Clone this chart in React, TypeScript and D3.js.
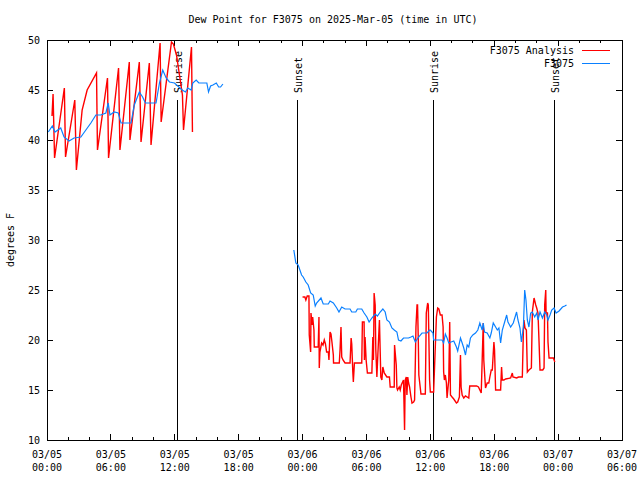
import React from "react";
import * as d3 from "d3";

// ---- data ----
const START_UTC = Date.UTC(2025, 2, 5, 0, 0);
const SPAN_HOURS = 54;
const Y_DOMAIN: [number, number] = [10, 50];
const Y_TICKS = [10, 15, 20, 25, 30, 35, 40, 45, 50];
const TITLE = "Dew Point for F3075 on 2025-Mar-05 (time in UTC)";
const Y_LABEL = "degrees F";
const SERIES_NAMES = ["F3075 Analysis", "F3075"];

// [hours since 03/05 00:00 UTC, dew point F]
const analysis: [number, number][] = [
  [0.47, 42.4], [0.57, 44.6], [0.71, 38.2], [1.63, 45.2], [1.74, 38.3], [2.61, 44.0], [2.76, 37.0],
  [3.30, 43.0], [3.77, 45.0], [4.65, 46.7], [4.74, 39.0], [5.68, 46.2], [5.78, 38.2], [6.72, 47.2],
  [6.85, 39.0], [7.73, 47.8], [7.79, 40.0], [8.67, 47.8], [8.83, 39.8], [9.61, 47.7], [9.77, 39.5],
  [10.62, 49.7], [10.72, 41.8], [11.69, 49.8], [11.87, 49.6], [12.16, 48.5], [12.44, 46.5],
  [12.72, 44.5], [12.82, 41.0], [13.57, 49.3], [13.66, 40.8],
  [24.00, 24.3], [24.22, 24.3], [24.31, 24.0], [24.44, 24.4], [24.60, 24.4], [24.63, 20.5],
  [24.76, 18.8], [24.79, 22.7], [24.91, 21.5], [24.95, 22.3], [25.07, 21.0], [25.10, 19.3],
  [25.47, 19.3], [25.54, 22.3], [25.57, 17.2], [25.63, 18.8], [25.79, 19.7], [25.92, 19.5],
  [26.04, 20.0], [26.15, 19.6], [26.26, 18.8], [26.42, 18.8], [26.48, 18.0], [26.58, 20.8],
  [26.67, 20.6], [26.76, 19.8], [26.89, 18.5], [26.91, 17.7], [27.45, 17.7], [27.52, 19.0],
  [27.61, 21.3], [27.68, 18.3], [27.80, 18.0], [27.99, 17.7], [28.46, 17.7], [28.56, 20.2],
  [28.62, 19.6], [28.72, 16.8], [28.77, 15.8], [28.87, 17.7], [29.56, 17.7], [29.62, 21.8],
  [29.78, 21.8], [29.81, 18.0], [29.87, 20.3], [29.97, 18.0], [30.09, 16.7], [30.51, 16.7],
  [30.60, 20.3], [30.66, 18.0], [30.72, 24.7], [30.82, 23.5], [30.88, 19.0], [30.98, 16.3],
  [31.07, 18.5], [31.22, 22.0], [31.35, 16.3], [31.45, 16.0], [31.54, 17.3], [31.67, 16.7],
  [31.92, 16.3], [32.16, 16.3], [32.23, 15.3], [32.61, 15.3], [32.64, 19.5], [32.80, 17.5],
  [32.86, 15.2], [32.92, 15.0], [33.08, 15.3], [33.17, 15.0], [33.27, 15.5], [33.48, 16.0],
  [33.58, 11.0], [33.64, 16.0], [33.74, 16.3], [33.80, 14.5], [33.88, 16.3], [33.96, 15.7],
  [34.05, 15.3], [34.18, 14.3], [34.28, 13.7], [34.43, 13.8], [34.52, 14.0], [34.59, 17.7],
  [34.65, 21.3], [34.75, 23.5], [34.80, 23.5], [34.87, 20.0], [34.92, 16.5], [35.12, 14.6],
  [35.53, 14.6], [35.62, 22.7], [35.75, 23.7], [35.81, 23.5], [35.93, 16.0], [36.00, 14.8],
  [36.31, 14.8], [36.57, 22.3], [36.69, 23.2], [36.80, 23.1], [36.94, 22.5], [37.10, 22.5],
  [37.20, 21.3], [37.25, 16.8], [37.32, 16.0], [37.41, 16.5], [37.51, 15.7], [37.57, 14.2],
  [37.73, 16.0], [37.82, 21.8], [37.89, 14.5], [38.04, 14.3], [38.20, 14.1], [38.45, 13.7],
  [38.57, 13.8], [38.73, 14.3], [38.83, 18.5], [38.89, 15.3], [38.99, 14.5], [39.14, 14.2],
  [39.30, 14.4], [39.61, 14.2], [39.70, 15.4], [40.34, 15.4], [40.52, 15.3], [40.65, 15.0],
  [40.78, 14.7], [40.87, 18.0], [40.97, 21.7], [41.02, 18.0], [41.18, 15.2], [41.34, 15.7],
  [41.49, 15.7], [41.59, 16.3], [41.72, 17.0], [41.82, 17.0], [41.97, 19.8], [42.03, 19.0],
  [42.13, 15.0], [42.60, 15.0], [42.69, 17.3], [42.76, 16.0], [42.91, 16.0], [43.07, 16.1],
  [43.54, 16.2], [43.70, 16.7], [43.76, 16.3], [44.10, 16.2], [44.29, 16.3], [44.55, 16.3],
  [44.64, 16.3], [44.74, 21.0], [44.79, 22.0], [44.89, 21.2], [45.02, 21.0], [45.11, 16.8],
  [45.26, 17.0], [45.49, 17.2], [45.58, 22.8], [45.74, 24.2], [45.90, 23.5], [45.99, 23.2],
  [46.11, 22.7], [46.21, 19.8], [46.30, 17.0], [46.56, 17.0], [46.68, 17.2], [46.74, 23.5],
  [46.84, 25.0], [46.87, 22.7], [47.00, 22.7], [47.05, 19.8], [47.15, 18.2], [47.56, 18.2],
  [47.69, 17.8],
];

const observed: [number, number][] = [
  [0.12, 40.8], [0.50, 41.4], [0.75, 40.8], [1.29, 41.2], [1.60, 40.3], [2.07, 39.9], [2.54, 40.2],
  [3.18, 40.3], [3.65, 41.0], [4.12, 41.7], [4.59, 42.5], [5.06, 42.5], [5.53, 42.7], [5.75, 43.7],
  [5.91, 42.5], [6.31, 42.8], [6.69, 42.7], [6.95, 41.7], [7.89, 41.7], [8.20, 43.5], [8.67, 44.8],
  [8.98, 44.3], [9.24, 43.7], [10.24, 43.7], [10.56, 45.7], [10.87, 47.0], [11.19, 46.2],
  [11.50, 45.8], [11.97, 45.7], [12.69, 45.0], [13.01, 44.8], [13.22, 45.2], [13.54, 45.0],
  [13.69, 45.7], [14.01, 46.0], [14.26, 45.7], [15.01, 45.7], [15.17, 44.8], [15.36, 45.4],
  [15.58, 45.5], [15.90, 45.7], [16.12, 45.3], [16.30, 45.3], [16.52, 45.6],
  [23.18, 29.0], [23.37, 27.7], [23.59, 27.5], [23.91, 26.5], [24.06, 26.3], [24.31, 25.8],
  [24.53, 25.5], [24.76, 24.7], [25.00, 24.5], [25.19, 23.4], [25.32, 23.7], [25.73, 24.2],
  [25.94, 23.6], [26.42, 23.6], [26.58, 23.9], [26.89, 23.7], [27.21, 23.2], [27.42, 22.8],
  [27.68, 23.3], [27.99, 23.1], [28.46, 23.1], [28.62, 22.8], [29.00, 22.8], [29.15, 23.1],
  [29.56, 23.1], [29.78, 22.7], [30.04, 22.3], [30.25, 21.8], [30.51, 22.2], [30.82, 22.6],
  [31.03, 22.4], [31.29, 22.8], [31.54, 23.1], [31.76, 22.8], [31.92, 22.0], [32.16, 21.8],
  [32.39, 21.2], [32.61, 21.0], [32.86, 20.8], [33.01, 20.0], [33.24, 19.9], [33.48, 20.2],
  [33.96, 20.2], [34.18, 20.3], [34.37, 20.4], [34.59, 19.8], [34.90, 20.3], [35.22, 20.7],
  [35.69, 20.7], [35.93, 21.0], [36.00, 21.0], [36.25, 20.7], [36.31, 20.0], [37.10, 20.0],
  [37.25, 19.7], [37.41, 20.6], [37.57, 20.2], [37.73, 19.7], [37.95, 19.8], [38.20, 19.9],
  [38.45, 19.3], [38.57, 18.9], [38.83, 20.2], [38.99, 19.7], [39.14, 19.2], [39.30, 18.5],
  [39.46, 19.5], [39.61, 19.3], [39.77, 20.2], [39.99, 20.5], [40.24, 20.7], [40.46, 21.0],
  [40.65, 21.7], [40.87, 21.0], [40.97, 21.7], [41.09, 20.8], [41.34, 20.7], [41.59, 20.2],
  [41.72, 20.7], [41.91, 21.7], [42.13, 21.3], [42.29, 21.0], [42.44, 21.2], [42.60, 19.7],
  [42.76, 21.0], [42.98, 21.8], [43.17, 22.5], [43.29, 21.8], [43.54, 21.3], [43.79, 21.7],
  [44.10, 22.8], [44.23, 22.0], [44.42, 21.2], [44.55, 19.8], [44.74, 21.3], [44.86, 25.0],
  [44.98, 24.0], [45.11, 22.0], [45.26, 21.3], [45.42, 22.7], [45.58, 22.8], [45.80, 22.3],
  [45.99, 22.7], [46.11, 22.0], [46.30, 22.8], [46.53, 22.2], [46.74, 22.8], [46.93, 22.5],
  [47.05, 22.0], [47.24, 22.5], [47.40, 23.0], [47.62, 23.2], [47.81, 22.7], [48.09, 22.9],
  [48.41, 23.3], [48.63, 23.4], [48.79, 23.5],
];

const sunHours = [12.25, 23.56, 36.28, 47.69];
const sunLabels = ["Sunrise", "Sunset", "Sunrise", "Sunset"];

// ---- layout ----
const W = 640;
const H = 480;
const PL = 47;
const PR = 622;
const PT = 40;
const PB = 440;
const FONT = "'DejaVu Sans Mono', 'Liberation Mono', monospace";
const RED = "#ff0000";
const BLUE = "#0a80ff";

const toDate = (h: number) => new Date(START_UTC + h * 3600 * 1000);

function splitGaps(data: [number, number][], gap: number): [number, number][][] {
  const out: [number, number][][] = [];
  let cur: [number, number][] = [];
  data.forEach((d, i) => {
    if (i > 0 && d[0] - data[i - 1][0] > gap) {
      out.push(cur);
      cur = [];
    }
    cur.push(d);
  });
  if (cur.length) out.push(cur);
  return out;
}

export default function App() {
  const x = d3.scaleUtc().domain([toDate(0), toDate(SPAN_HOURS)]).range([PL, PR]);
  const y = d3.scaleLinear().domain(Y_DOMAIN).range([PB, PT]);
  const line = d3
    .line<[number, number]>()
    .x((d) => x(toDate(d[0])))
    .y((d) => y(d[1]));

  const minorTicks = x.ticks(d3.utcHour.every(2)!);
  const majorTicks = x.ticks(d3.utcHour.every(6)!);
  const fmtDate = d3.utcFormat("%m/%d");
  const fmtTime = d3.utcFormat("%H:%M");

  const series = [
    { name: SERIES_NAMES[0], data: analysis, color: RED, width: 1.4 },
    { name: SERIES_NAMES[1], data: observed, color: BLUE, width: 1.2 },
  ];

  return (
    <svg
      width={W}
      height={H}
      style={{ position: "absolute", left: 0, top: 0, background: "#fff" }}
      fontFamily={FONT}
      fontSize={10}
    >
      <rect x={0} y={0} width={W} height={H} fill="#fff" />
      <text x={333} y={23} textAnchor="middle" fill="#000">
        {TITLE}
      </text>

      {/* y ticks */}
      {Y_TICKS.map((t) => (
        <g key={"y" + t}>
          <line x1={PL} x2={PL + 6} y1={y(t)} y2={y(t)} stroke="#000" shapeRendering="crispEdges" />
          <line x1={PR} x2={PR - 6} y1={y(t)} y2={y(t)} stroke="#000" shapeRendering="crispEdges" />
          <text x={40} y={y(t) + 4} textAnchor="end" fill="#000">
            {t}
          </text>
        </g>
      ))}

      {/* x ticks */}
      {minorTicks.map((t, i) => {
        const isMajor = t.getUTCHours() % 6 === 0;
        const len = isMajor ? 6 : 3;
        return (
          <g key={"xm" + i}>
            <line x1={x(t)} x2={x(t)} y1={PB} y2={PB - len} stroke="#000" shapeRendering="crispEdges" />
            <line x1={x(t)} x2={x(t)} y1={PT} y2={PT + len} stroke="#000" shapeRendering="crispEdges" />
          </g>
        );
      })}
      {majorTicks.map((t, i) => (
        <g key={"xl" + i}>
          <text x={x(t)} y={458} textAnchor="middle" fill="#000">
            {fmtDate(t)}
          </text>
          <text x={x(t)} y={471} textAnchor="middle" fill="#000">
            {fmtTime(t)}
          </text>
        </g>
      ))}

      <text
        transform={`translate(14, ${(PT + PB) / 2}) rotate(-90)`}
        textAnchor="middle"
        fill="#000"
      >
        {Y_LABEL}
      </text>

      {/* sun lines */}
      {sunHours.map((h, i) => {
        const sx = x(toDate(h));
        return (
          <g key={"sun" + i}>
            <line x1={sx} x2={sx} y1={PB} y2={100} stroke="#000" shapeRendering="crispEdges" />
            <text transform={`translate(${sx + 4.5}, 93) rotate(-90)`} textAnchor="start" fill="#000">
              {sunLabels[i]}
            </text>
          </g>
        );
      })}

      {/* data */}
      {series.map((s) =>
        splitGaps(s.data, 3).map((seg, j) => (
          <path
            key={s.name + j}
            d={line(seg) || ""}
            fill="none"
            stroke={s.color}
            strokeWidth={s.width}
            strokeLinejoin="miter"
          />
        ))
      )}

      {/* frame */}
      <rect
        x={PL}
        y={PT}
        width={PR - PL}
        height={PB - PT}
        fill="none"
        stroke="#000"
        shapeRendering="crispEdges"
      />

      {/* legend */}
      {series.map((s, i) => (
        <g key={"lg" + i}>
          <text x={574} y={54 + i * 13} textAnchor="end" fill="#000">
            {s.name}
          </text>
          <line
            x1={582}
            x2={610}
            y1={50 + i * 13}
            y2={50 + i * 13}
            stroke={s.color}
            shapeRendering="crispEdges"
          />
        </g>
      ))}
    </svg>
  );
}
